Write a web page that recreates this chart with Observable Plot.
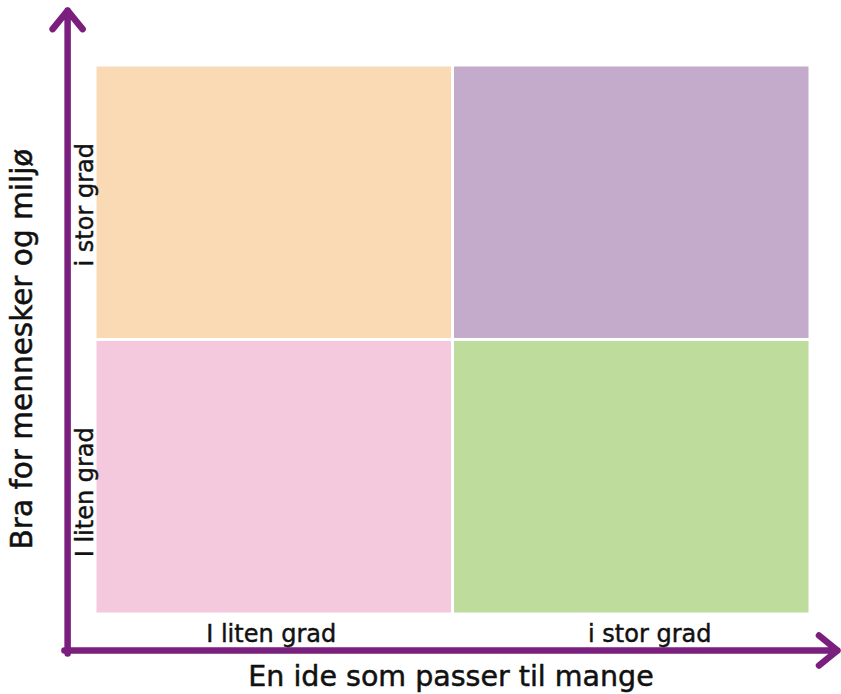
<!DOCTYPE html>
<html><head><meta charset="utf-8">
<script src="https://cdn.jsdelivr.net/npm/d3@7"></script>
<script src="https://cdn.jsdelivr.net/npm/@observablehq/plot@0.6"></script>
<style>body{margin:0;background:#fff} svg{display:block}</style>
</head><body><div id="chart"></div>
<script>
// Categories (x: bottom axis, y: left axis, bottom-to-top)
const xCategories = ["I liten grad", "i stor grad"];
const yCategories = ["I liten grad", "i stor grad"];
const xTitle = "En ide som passer til mange";
const yTitle = "Bra for mennesker og miljø";
// Quadrant cells: column / row index
const quadrantCol = [0, 1, 0, 1];
const quadrantRow = [1, 1, 0, 0];
const quadrantColors = ["#f9dab5", "#c4abcc", "#f4c8dd", "#bedc9c"];
// Axis arrows in data units (they reach outside the quadrant grid)
const axisArrowX1 = [-0.078, -0.087];
const axisArrowY1 = [-0.142, -0.131];
const axisArrowX2 = [-0.078, 2.0755];
const axisArrowY2 = [2.2, -0.131];

const purple = "#7a1f7e";
const ink = "#111";
const font = "'DejaVu Sans', sans-serif";

const cells = quadrantCol.map((c, i) => ({x1: c, x2: c + 1, y1: quadrantRow[i], y2: quadrantRow[i] + 1, fill: quadrantColors[i]}));
const arrows = axisArrowX1.map((x, i) => ({x1: x, y1: axisArrowY1[i], x2: axisArrowX2[i], y2: axisArrowY2[i]}));

const xShift = [-3, 18];
const yShift = [15, 2];

const chart = Plot.plot({
  width: 841,
  height: 694,
  marginLeft: 95,
  marginRight: 31,
  marginTop: 65,
  marginBottom: 80,
  style: {fontFamily: font, background: "#fff", overflow: "visible"},
  x: {domain: [0, 2], axis: null},
  y: {domain: [0, 2], axis: null},
  marks: [
    Plot.rect(cells, {x1: "x1", x2: "x2", y1: "y1", y2: "y2", fill: d => d.fill, inset: 1.5}),
    Plot.arrow(arrows, {x1: "x1", y1: "y1", x2: "x2", y2: "y2", stroke: purple, strokeWidth: 6.5,
      headLength: 5.5, headAngle: 78, strokeLinecap: "round", strokeLinejoin: "round"}),
    ...xCategories.map((c, i) => Plot.text([c], {x: () => i + 0.5, text: d => d, frameAnchor: "bottom",
      dy: 20, dx: xShift[i], fontSize: 24, fill: ink, stroke: ink, strokeWidth: 0.45,
      textAnchor: "middle", lineAnchor: "middle"})),
    ...yCategories.map((c, i) => Plot.text([c], {y: () => i + 0.5, text: d => d, frameAnchor: "left",
      dx: -10, dy: yShift[i], rotate: -90, fontSize: 24, fill: ink, stroke: ink, strokeWidth: 0.45,
      textAnchor: "middle", lineAnchor: "middle"})),
    Plot.text([xTitle], {text: d => d, frameAnchor: "bottom", dy: 62, dx: -2, fontSize: 28.5,
      fill: ink, stroke: ink, strokeWidth: 0.5, textAnchor: "middle", lineAnchor: "middle"}),
    Plot.text([yTitle], {text: d => d, frameAnchor: "left", dx: -73, dy: 9, rotate: -90, fontSize: 29.5,
      fill: ink, stroke: ink, strokeWidth: 0.5, textAnchor: "middle", lineAnchor: "middle"})
  ]
});
document.getElementById("chart").appendChild(chart);
</script>
</body></html>
